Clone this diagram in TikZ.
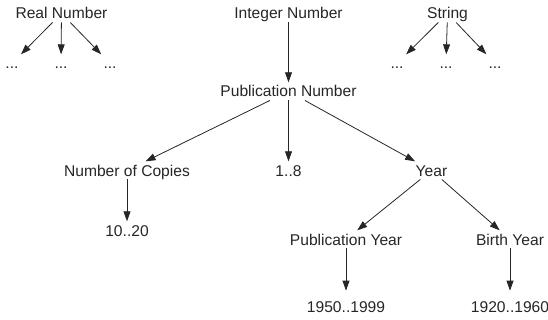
\documentclass[tikz,border=0pt]{standalone}
\usepackage{fontspec}
\setmainfont{Liberation Sans}
\usepackage{tikz}
\usetikzlibrary{arrows.meta}

\begin{document}
\begin{tikzpicture}[x=0.75pt,y=-0.75pt,font=\fontsize{11.7}{14}\selectfont,
  lbl/.style={anchor=base,inner sep=0pt,outer xsep=2pt,outer ysep=2.6pt,text height=8.4pt,text depth=0pt,text=black!85},
  arr/.style={-{Triangle[length=7.5pt,width=5.2pt]},line width=0.6pt,draw=black!85}]
\useasboundingbox (0,0) rectangle (548,320);
% top row
\node[lbl] (rn) at (61.5,19) {Real Number};
\node[lbl] (in) at (288.5,19) {Integer Number};
\node[lbl] (st) at (447.5,19) {String};
\foreach \x/\n in %
{12/rd1,61/rd2,110/rd3} {
   \node[lbl] (\n) at (\x,69) {...};
   \draw[arr] (rn) -- (\n);
}
\foreach \x/\n in %
{397/sd1,446/sd2,495/sd3} {
   \node[lbl] (\n) at (\x,69) {...};
   \draw[arr] (st) -- (\n);
}
% publication number and below
\node[lbl] (pn) at (288.5,97) {Publication Number};
\node[lbl] (nc) at (127,176) {Number of Copies};
\node[lbl] (r18) at (288.5,176) {1..8};
\node[lbl] (yr) at (431.5,176) {Year};
\node[lbl] (r1020) at (127,236) {10..20};
\node[lbl] (py) at (346,245) {Publication Year};
\node[lbl] (by) at (510,245) {Birth Year};
\node[lbl] (r5099) at (346,312) {1950..1999};
\node[lbl] (r2060) at (510,312) {1920..1960};
\draw[arr] (in) -- (pn);
\draw[arr] (pn) -- (nc);
\draw[arr] (pn) -- (r18);
\draw[arr] (pn) -- (yr);
\draw[arr] (nc) -- (r1020);
\draw[arr] (yr) -- (py);
\draw[arr] (yr) -- (by);
\draw[arr,shorten >=5pt] (py) -- (r5099);
\draw[arr,shorten >=5pt] (by) -- (r2060);
\end{tikzpicture}
\end{document}
